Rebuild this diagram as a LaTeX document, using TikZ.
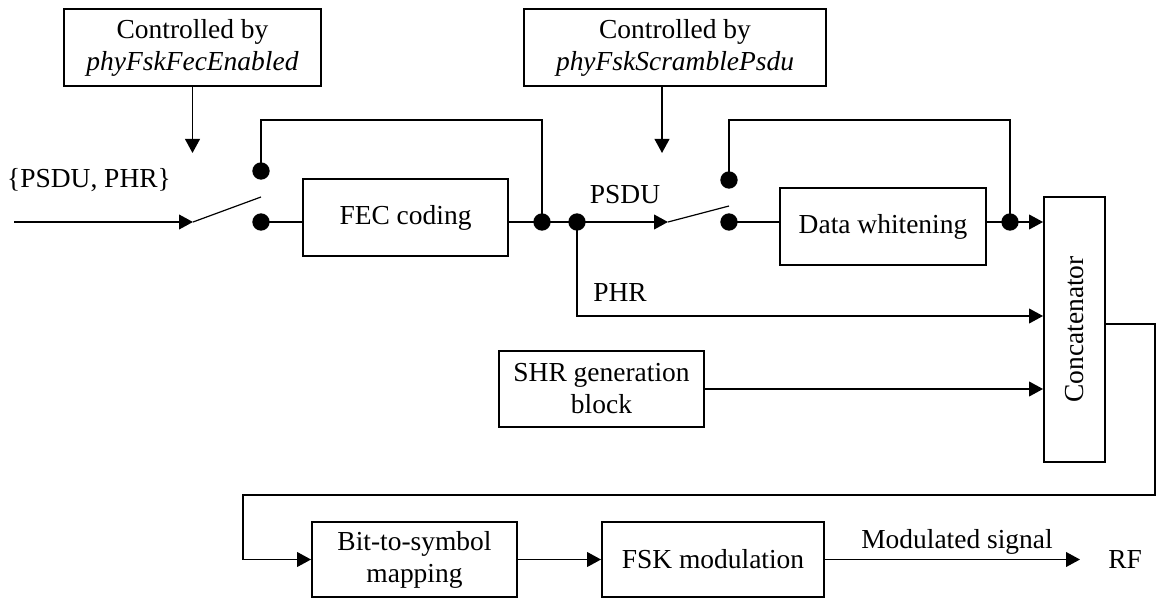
\documentclass[tikz,border=0pt]{standalone}
\usepackage{fontspec}
\setmainfont{Liberation Serif}
\usetikzlibrary{arrows.meta}
\tikzset{
  txt/.style={font=\fontsize{20.6pt}{24pt}\selectfont},
  blockbox/.style={txt, draw, line width=1.4pt, align=center, inner sep=0pt},
  wire/.style={line width=1.4pt},
  flow/.style={wire, -{Triangle[length=10.5pt,width=11pt]}},
  blade/.style={line width=0.9pt},
  junction/.style={circle, fill=black, draw=none, inner sep=0pt, minimum size=13pt},
}
\begin{document}
\begin{tikzpicture}[x=0.75pt, y=-0.75pt]
\useasboundingbox (0,0) rectangle (1162,599);

% control boxes
\node[blockbox, minimum width=192.75pt, minimum height=57.75pt] (ctl1) at (192.5,47.5)
  {Controlled by\\\textit{phyFskFecEnabled}};
\node[blockbox, minimum width=226.5pt, minimum height=57.75pt] (ctl2) at (675,47.5)
  {Controlled by\\\textit{phyFskScramblePsdu}};

% processing blocks
\node[blockbox, minimum width=153.75pt, minimum height=57.75pt] (fec) at (405.5,217.5) {FEC coding};
\node[blockbox, minimum width=154.5pt, minimum height=57.75pt] (dw) at (883,226.5) {Data whitening};
\node[blockbox, minimum width=45.75pt, minimum height=198.75pt] (cat) at (1074.5,329.5) {\rotatebox{90}{Concatenator}};
\node[blockbox, minimum width=153.75pt, minimum height=57pt] (shr) at (601.5,389) {SHR generation\\block};
\node[blockbox, minimum width=153.75pt, minimum height=56.25pt] (bts) at (414.5,559.5) {Bit-to-symbol\\mapping};
\node[blockbox, minimum width=166.5pt, minimum height=56.25pt] (fsk) at (713,559.5) {FSK modulation};
\node[txt, anchor=west, inner xsep=21pt, inner ysep=0pt] (rf) at (1080,559.5) {RF};

% labels
\node[txt] (inlbl) at (89,180) {\{PSDU, PHR\}};
\node[txt] (psdu) at (625,195) {PSDU};
\node[txt] (phr) at (620,293) {PHR};
\node[txt] (mod) at (957,542) {Modulated signal};

% switch contacts and junctions
\node[junction] (d1a) at (261,171) {};
\node[junction] (d1b) at (261,222) {};
\node[junction] (d2) at (542,222) {};
\node[junction] (d3) at (577,222) {};
\node[junction] (d4) at (729,180) {};
\node[junction] (d5) at (729,222) {};
\node[junction] (d6) at (1010,222) {};

% switch pivots and helper points
\coordinate (in) at (14,222);
\coordinate (sw1) at (193,222);
\coordinate (sw1f) at (261,197);
\coordinate (c1tip) at (192.5,153);
\coordinate (sw2) at (668,222);
\coordinate (sw2f) at (729,206);
\coordinate (c2tip) at (662,153);
\coordinate (fb1) at (400,120);
\coordinate (fb2) at (870,120);
\coordinate (phrY) at (800,316);
\coordinate (loopR) at (1155,495);
\coordinate (loopL) at (243,495);

% first switch (FEC bypass)
\draw[flow] (in) -- (sw1);
\draw[blade] (sw1) -- (sw1f);
\draw[flow] (ctl1.south) -- (c1tip);
\draw[wire] (d1a.center) |- (fb1) -| (d2.center);
\draw[wire] (d1b.center) -- (fec.west |- d1b);
\draw[wire] (fec.east |- d2) -- (d3.center);

% second switch (whitening bypass)
\draw[flow] (d3.center) -- (sw2);
\draw[blade] (sw2) -- (sw2f);
\draw[flow] (c2tip |- ctl2.south) -- (c2tip);
\draw[wire] (d4.center) |- (fb2) -| (d6.center);
\draw[wire] (d5.center) -- (dw.west |- d5);
\draw[wire] (dw.east |- d6) -- (d6.center);
\draw[flow] (d6.center) -- (cat.west |- d6);

% header and preamble into the concatenator
\draw[flow] (d3.center) |- (cat.west |- phrY);
\draw[flow] (shr.east) -- (cat.west |- shr.east);

% output chain
\draw[flow] ([yshift=4pt]cat.east) -| (loopR) -- (loopL) |- (bts.west);
\draw[flow] (bts.east) -- (fsk.west);
\draw[flow] (fsk.east) -- (rf.west);
\end{tikzpicture}
\end{document}
